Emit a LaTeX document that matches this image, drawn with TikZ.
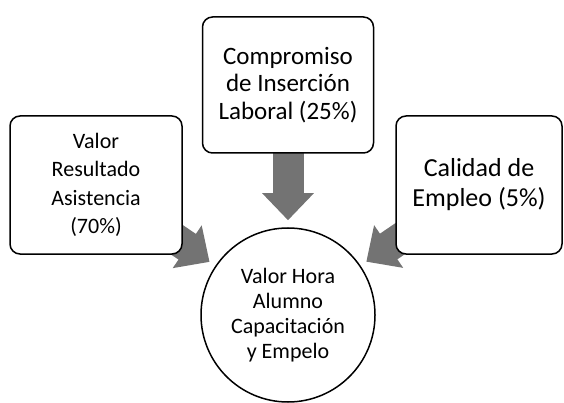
\documentclass[tikz,border=0pt]{standalone}
\usepackage{fontspec}
\setmainfont{Carlito}
\usetikzlibrary{arrows.meta}
\pgfdeclarelayer{bg}
\pgfsetlayers{bg,main}
\begin{document}
\begin{tikzpicture}[x=1pt,y=-1pt,
  box/.style={draw, line width=1.5pt, rounded corners=10pt, fill=white, align=center, inner sep=0pt},
  circ/.style={draw, circle, line width=1.5pt, fill=white, align=center, minimum size=174pt, inner sep=0pt},
  blockarrow/.style={line width=31pt, draw=black!55, -{Triangle[length=27pt,width=50pt]}, shorten >=7pt}]
\useasboundingbox (0,0) rectangle (564,403);
\node[box, minimum width=172pt, minimum height=138pt, font=\fontsize{22}{28.5}\selectfont] (asis) at (96,185) {Valor\\Resultado\\Asistencia\\(70\%)};
\node[box, minimum width=171pt, minimum height=136pt, font=\fontsize{25}{27.5}\selectfont] (insercion) at (288,85) {Compromiso\\de Inserción\\Laboral (25\%)};
\node[box, minimum width=166pt, minimum height=138pt, font=\fontsize{26}{30}\selectfont] (calidad) at (479,185) {Calidad de\\Empleo (5\%)};
\node[circ, font=\fontsize{22}{25}\selectfont] (valor) at (288,315) {Valor Hora\\Alumno\\Capacitación\\y Empelo};
\begin{pgfonlayer}{bg}
\draw[blockarrow] (asis.center) -- (valor);
\draw[blockarrow] (insercion.center) -- (valor);
\draw[blockarrow] (calidad.center) -- (valor);
\end{pgfonlayer}
\end{tikzpicture}
\end{document}
